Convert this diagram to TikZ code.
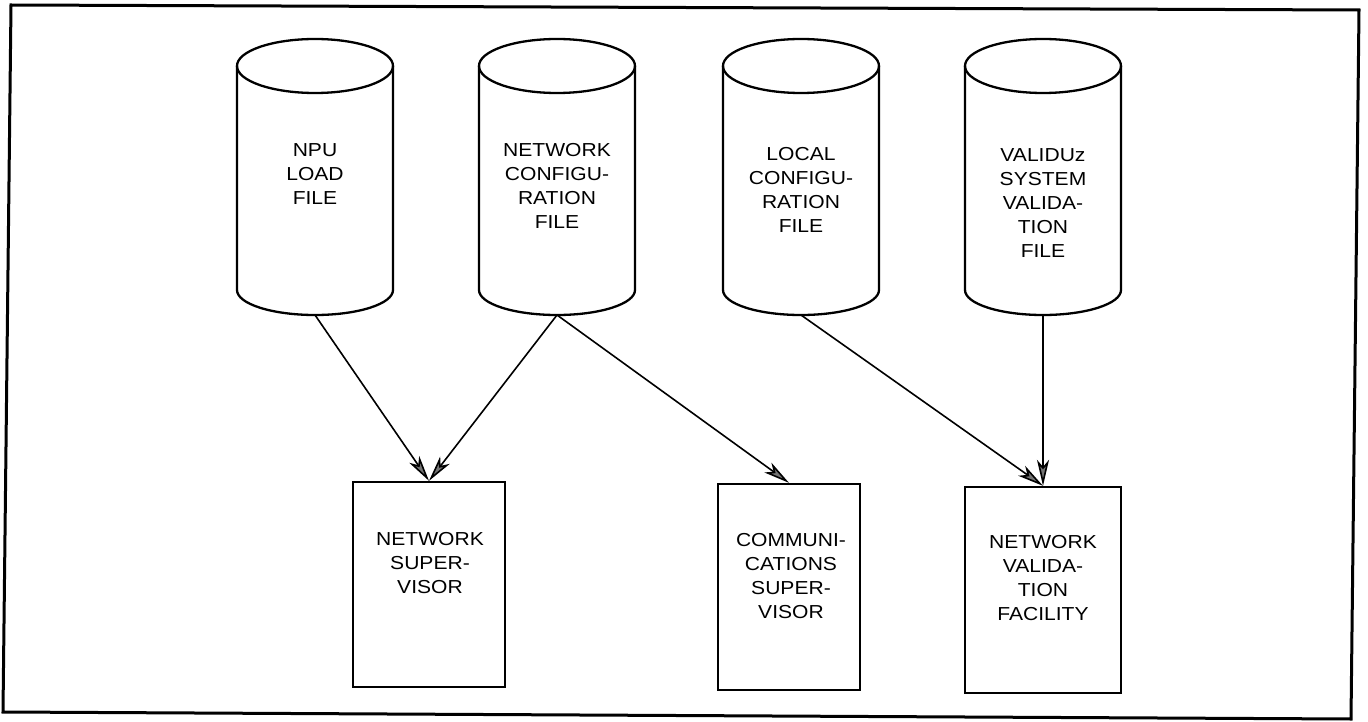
\documentclass[tikz,border=0pt]{standalone}
\usepackage{fontspec}
\setmainfont[FakeStretch=1.12]{Liberation Sans}
\usetikzlibrary{arrows.meta}
\tikzset{
  drum/.pic={
    \draw[line width=2.3pt] (-78,66) -- (-78,290) arc[start angle=180,end angle=0,x radius=78,y radius=25] -- (78,66);
    \draw[line width=2.3pt] (0,66) ellipse[x radius=78,y radius=27];
    \coordinate (-bot) at (0,315);
  },
  lbl/.style={align=center,inner sep=0pt,anchor=north,font=\fontsize{18.8}{24}\selectfont},
  procbox/.style={draw,line width=2.3pt,rectangle,inner sep=0pt},
  flow/.style={line width=1.6pt,-{Stealth[length=26pt,width=12pt,inset=7pt,line width=1.6pt,fill=black!55]}},
  frame/.style={line width=3pt,line join=miter}
}
\begin{document}
\begin{tikzpicture}[x=1pt,y=-1pt]
\useasboundingbox (0,0) rectangle (1368,722);
% frame
\coordinate (f1) at (11,5);
\coordinate (f2) at (1359,10);
\coordinate (f3) at (1351,719);
\coordinate (f4) at (3,712);
\draw[frame] (f1) -- (f2) -- (f3) -- (f4) -- cycle;
% cylinders
\pic (d1) at (315,0) {drum};
\pic (d2) at (557,0) {drum};
\pic (d3) at (801,0) {drum};
\pic (d4) at (1043,0) {drum};
\node[lbl] (t1) at (315,143) {NPU\\LOAD\\FILE};
\node[lbl] (t2) at (557,143) {NETWORK\\CONFIGU-\\RATION\\FILE};
\node[lbl] (t3) at (801,147) {LOCAL\\CONFIGU-\\RATION\\FILE};
\node[lbl] (t4) at (1043,148) {VALIDUz\\SYSTEM\\VALIDA-\\TION\\FILE};
% boxes
\node[procbox,minimum width=152pt,minimum height=205pt] (b1) at (429,584.5) {};
\node[procbox,minimum width=142pt,minimum height=206pt] (b2) at (789,587) {};
\node[procbox,minimum width=156pt,minimum height=206pt] (b3) at (1043,590) {};
\node[lbl] (u1) at (430,532) {NETWORK\\SUPER-\\VISOR};
\node[lbl] (u2) at (791,533) {COMMUNI-\\CATIONS\\SUPER-\\VISOR};
\node[lbl] (u3) at (1043,535) {NETWORK\\VALIDA-\\TION\\FACILITY};
% connectors
\draw[flow] (d1-bot) -- (b1.north);
\draw[flow] (d2-bot) -- (b1.north);
\draw[flow] (d2-bot) -- (b2.north);
\draw[flow] (d3-bot) -- (b3.north);
\draw[flow] (d4-bot) -- (b3.north);
\end{tikzpicture}
\end{document}
